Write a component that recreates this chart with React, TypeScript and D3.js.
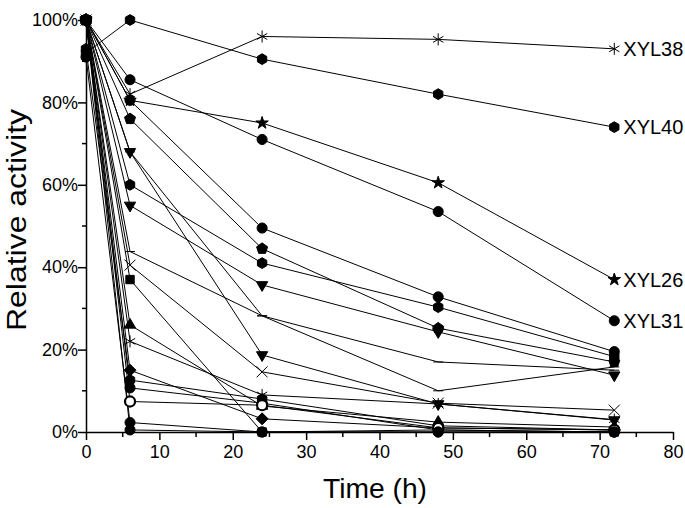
import React, { useEffect, useRef } from "react";
import * as d3 from "d3";

// sampling times (h)
const times = [0, 6, 24, 48, 72];

// labelled enzymes
const xyl38 = [100, 82, 96, 95.3, 93];
const xyl40 = [92, 100, 90.5, 82, 74];
const xyl26 = [100, 80.5, 75, 60.5, 37];
const xyl31 = [100, 85.5, 71, 53.5, 27];

// the unlabelled ones
const s5 = [100, 80.5, 49.5, 32.8, 19.5];
const s6 = [100, 76, 44.5, 25.2, 17];
const s7 = [100, 60, 41, 30.3, 18.3];
const s8 = [100, 55, 35.7, 24.3, 13.8];
const s9 = [100, 68, 18.7, 6.8, 2.9];
const s10 = [100, 68, 28.2, 10, 15.8];
const s11 = [100, 43.8, 28.2, 17, 15];
const s12 = [100, 40.5, 14.6, 7, 5.3];
const s13 = [100, 37, 0, 0.5, 0];
const s14 = [100, 26, 6.3, 2.4, 1.2];
const s15 = [100, 22, 9, 6.8, 3];
const s16 = [100, 15, 3.2, 1, 0.5];
const s17 = [93, 12.6, 8, 1.5, 0.5];
const s18 = [100, 10.7, 7, 0.5, 0];
const s19 = [100, 7.4, 6.5, 1, 0.5];
const s20 = [91, 2.3, 0, 0, 0];
const s21 = [100, 0.5, 0, 0, 0];

const xTicks = [0, 10, 20, 30, 40, 50, 60, 70, 80];
const yTicks = [0, 20, 40, 60, 80, 100];
const yTickLabels = ["0%", "20%", "40%", "60%", "80%", "100%"];

const series = [
  { name: "XYL38", values: xyl38, marker: "asterisk", label: true },
  { name: "XYL40", values: xyl40, marker: "hexagon", label: true },
  { name: "XYL26", values: xyl26, marker: "star", label: true },
  { name: "XYL31", values: xyl31, marker: "circle", label: true },
  { name: "s5", values: s5, marker: "circle" },
  { name: "s6", values: s6, marker: "pentagon" },
  { name: "s7", values: s7, marker: "hexagon" },
  { name: "s8", values: s8, marker: "triDown" },
  { name: "s9", values: s9, marker: "triDown" },
  { name: "s10", values: s10, marker: "dash" },
  { name: "s11", values: s11, marker: "dash" },
  { name: "s12", values: s12, marker: "cross" },
  { name: "s13", values: s13, marker: "square" },
  { name: "s14", values: s14, marker: "triUp" },
  { name: "s15", values: s15, marker: "asterisk" },
  { name: "s16", values: s16, marker: "diamond" },
  { name: "s17", values: s17, marker: "hexagon" },
  { name: "s18", values: s18, marker: "circle" },
  { name: "s19", values: s19, marker: "ring" },
  { name: "s20", values: s20, marker: "circle" },
  { name: "s21", values: s21, marker: "circle" },
];

const font = "'Liberation Sans', Arial, sans-serif";

const polygon = (n, r, rot) => {
  const pts = d3.range(n).map((i) => {
    const a = rot + (i * 2 * Math.PI) / n;
    return [r * Math.cos(a), r * Math.sin(a)];
  });
  return "M" + pts.map((p) => p.join(",")).join("L") + "Z";
};

const markerPath = (type) => {
  switch (type) {
    case "circle":
    case "ring":
      return d3.symbol(d3.symbolCircle, 80)();
    case "star":
      return d3.symbol(d3.symbolStar, 48)();
    case "square":
      return d3.symbol(d3.symbolSquare, 70)();
    case "diamond":
      return polygon(4, 6, -Math.PI / 2);
    case "triUp":
      return polygon(3, 6.5, -Math.PI / 2);
    case "triDown":
      return polygon(3, 6.5, Math.PI / 2);
    case "hexagon":
      return polygon(6, 5.4, -Math.PI / 2);
    case "pentagon":
      return polygon(5, 5.8, -Math.PI / 2);
    case "asterisk":
      return "M0,-6L0,6M-5.2,-3L5.2,3M-5.2,3L5.2,-3";
    case "cross":
      return "M-5.5,-5.5L5.5,5.5M-5.5,5.5L5.5,-5.5";
    case "dash":
      return "M-5,0L5,0";
    default:
      return "";
  }
};

const strokeOnly = (t) => t === "asterisk" || t === "cross" || t === "dash";

const Chart = () => {
  const ref = useRef(null);

  useEffect(() => {
    const svg = d3.select(ref.current);
    svg.selectAll("*").remove();

    const width = 685;
    const height = 508;

    const x = d3.scaleLinear().domain([0, 80]).range([86, 673]);
    const y = d3.scaleLinear().domain([0, 100]).range([432, 20]);

    // lines
    const line = d3
      .line()
      .x((d) => x(d[0]))
      .y((d) => y(d[1]));

    svg
      .append("g")
      .selectAll("path")
      .data(series)
      .enter()
      .append("path")
      .attr("d", (s) => line(times.map((t, i) => [t, s.values[i]])))
      .attr("fill", "none")
      .attr("stroke", "#000")
      .attr("stroke-width", 1);

    // axes
    const xAxis = svg.append("g").attr("transform", `translate(0,${y(0)})`);
    xAxis
      .call(
        d3
          .axisBottom(x)
          .tickValues(xTicks)
          .tickSize(8)
          .tickSizeOuter(0)
          .tickFormat(d3.format("d"))
      )
      .call((g) => g.select(".domain").attr("stroke-width", 1.5))
      .call((g) => g.selectAll(".tick line").attr("stroke-width", 1.5))
      .call((g) =>
        g
          .selectAll("text")
          .attr("font-family", font)
          .attr("font-size", 18)
          .attr("fill", "#000")
          .attr("dy", "0.85em")
      );
    xAxis
      .selectAll(".minor")
      .data(d3.range(5, 80, 10))
      .enter()
      .append("line")
      .attr("x1", (d) => x(d))
      .attr("x2", (d) => x(d))
      .attr("y1", 0)
      .attr("y2", 5)
      .attr("stroke", "#000")
      .attr("stroke-width", 1.5);

    const yAxis = svg.append("g").attr("transform", `translate(${x(0)},0)`);
    yAxis
      .call(
        d3
          .axisLeft(y)
          .tickValues(yTicks)
          .tickSize(8)
          .tickSizeOuter(0)
          .tickFormat((d, i) => yTickLabels[i])
      )
      .call((g) => g.select(".domain").attr("stroke-width", 1.5))
      .call((g) => g.selectAll(".tick line").attr("stroke-width", 1.5))
      .call((g) =>
        g
          .selectAll("text")
          .attr("font-family", font)
          .attr("font-size", 18)
          .attr("fill", "#000")
          .attr("x", -8)
      );
    yAxis
      .selectAll(".minor")
      .data(d3.range(10, 100, 20))
      .enter()
      .append("line")
      .attr("x1", -4)
      .attr("x2", 0)
      .attr("y1", (d) => y(d))
      .attr("y2", (d) => y(d))
      .attr("stroke", "#000")
      .attr("stroke-width", 1.5);

    // markers
    series.forEach((s) => {
      svg
        .append("g")
        .selectAll("path")
        .data(times.map((t, i) => [t, s.values[i]]))
        .enter()
        .append("path")
        .attr("transform", (d) => `translate(${x(d[0])},${y(d[1])})`)
        .attr("d", markerPath(s.marker))
        .attr("fill", strokeOnly(s.marker) ? "none" : s.marker === "ring" ? "#fff" : "#000")
        .attr("stroke", "#000")
        .attr("stroke-width", s.marker === "ring" ? 2.2 : 1);
    });

    // end labels
    svg
      .append("g")
      .selectAll("text")
      .data(series.filter((s) => s.label))
      .enter()
      .append("text")
      .attr("x", x(72) + 9)
      .attr("y", (s) => y(s.values[4]) + 7)
      .attr("font-family", font)
      .attr("font-size", 20)
      .text((s) => s.name);

    // titles
    svg
      .append("text")
      .attr("x", 375)
      .attr("y", 498)
      .attr("text-anchor", "middle")
      .attr("font-family", font)
      .attr("font-size", 27)
      .attr("textLength", 104)
      .attr("lengthAdjust", "spacingAndGlyphs")
      .text("Time (h)");

    svg
      .append("text")
      .attr("transform", `translate(26,220) rotate(-90)`)
      .attr("text-anchor", "middle")
      .attr("font-family", font)
      .attr("font-size", 27)
      .attr("textLength", 222)
      .attr("lengthAdjust", "spacingAndGlyphs")
      .text("Relative activity");

    svg.attr("width", width).attr("height", height);
  }, []);

  return <svg ref={ref} style={{ display: "block" }}></svg>;
};

export default function App() {
  return (
    <div style={{ position: "absolute", left: 0, top: 0, background: "#fff" }}>
      <Chart />
    </div>
  );
}
